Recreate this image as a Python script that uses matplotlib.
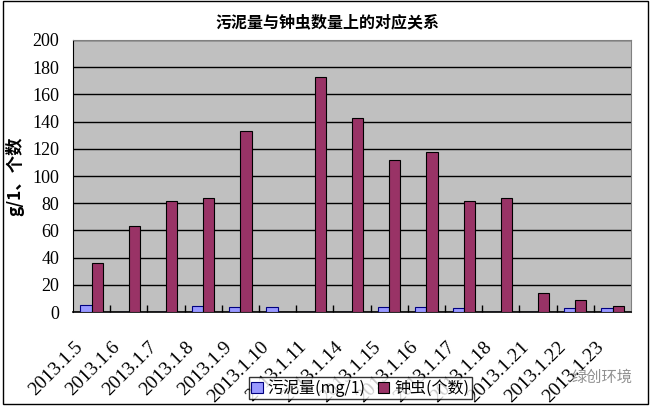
import matplotlib.pyplot as plt
import numpy as np
from matplotlib.patches import Rectangle
from matplotlib.transforms import ScaledTranslation, blended_transform_factory

dates = ["2013.1.5", "2013.1.6", "2013.1.7", "2013.1.8", "2013.1.9",
         "2013.1.10", "2013.1.11", "2013.1.14", "2013.1.15", "2013.1.16",
         "2013.1.17", "2013.1.18", "2013.1.21", "2013.1.22", "2013.1.23"]
sludge = [5.4, 0, 0, 4.4, 3.7, 3.7, 0, 0, 4.0, 4.0, 2.7, 0, 0, 2.7, 2.7]
vorticella = [36, 63, 82, 84, 133, 0, 173, 143, 112, 118, 82, 84, 14, 9, 4.4]

cjk = ["Noto Sans CJK SC", "DejaVu Sans"]
serif = ["Liberation Serif", "DejaVu Serif"]

fig = plt.figure(figsize=(6.54, 4.08), dpi=100)
ax = fig.add_axes([0.1116, 0.235, 0.8534, 0.667])

x = np.arange(len(dates))
w = 0.3
ax.bar(x - w / 2, sludge, w, color="#9999FF", edgecolor="#000080", linewidth=0.8,
       label="污泥量(mg/1)", zorder=3)
ax.bar(x + w / 2, vorticella, w, color="#993366", edgecolor="#000000", linewidth=0.8,
       label="钟虫(个数)", zorder=3)

ax.set_facecolor("#C0C0C0")
ax.set_xlim(-0.5, len(dates) - 0.5)
ax.set_ylim(0, 200)
ax.set_yticks(range(0, 201, 20))
ax.yaxis.grid(True, color="black", linewidth=1)
ax.set_axisbelow(True)

# category labels, drawn by hand so they can sit a little left of the tick
ax.set_xticks(x)
ax.set_xticklabels([])
trans = blended_transform_factory(ax.transData, ax.transAxes) + \
    ScaledTranslation(-0.115, -0.32, fig.dpi_scale_trans)
for i, d in enumerate(dates):
    ax.text(i, 0, d, transform=trans, rotation=45, ha="right", va="center",
            rotation_mode="anchor", family=serif, fontsize=14, clip_on=False)

ax.set_xticks(x[:-1] + 0.5, minor=True)
ax.tick_params(axis="x", which="major", length=0)
ax.tick_params(axis="x", which="minor", direction="in", length=5, width=1, color="black")
ax.tick_params(axis="y", length=0, pad=10)
for lab in ax.get_yticklabels():
    lab.set_family(serif)
    lab.set_fontsize(13)

for s in ["top", "right"]:
    ax.spines[s].set_color("#808080")
ax.spines["left"].set_color("black")
ax.spines["bottom"].set_color("black")
ax.spines["bottom"].set_linewidth(1.2)

ax.set_ylabel("g/1、个数", family=cjk, fontsize=12.5, fontweight="bold", labelpad=6)
fig.text(0.5, 0.945, "污泥量与钟虫数量上的对应关系", family=cjk, fontsize=11.5,
         fontweight="bold", ha="center", va="center")

leg = fig.legend(loc="center", bbox_to_anchor=(0.551, 0.049), ncol=2,
                 prop={"family": cjk, "size": 11.5}, frameon=True, fancybox=False,
                 edgecolor="black", handlelength=0.7, handleheight=0.7,
                 handletextpad=0.3, columnspacing=0.8, borderpad=0.15,
                 borderaxespad=0)
leg.get_frame().set_linewidth(1)
leg.set_zorder(5)

fig.text(0.92, 0.075, "绿创环境", family=cjk, fontsize=11, color="#909090",
         ha="center", va="center")

fig.patches.append(Rectangle((0.005, 0.01), 0.986, 0.987, transform=fig.transFigure,
                             fill=False, edgecolor="black", linewidth=1))

fig.savefig("out.png", dpi=100)
